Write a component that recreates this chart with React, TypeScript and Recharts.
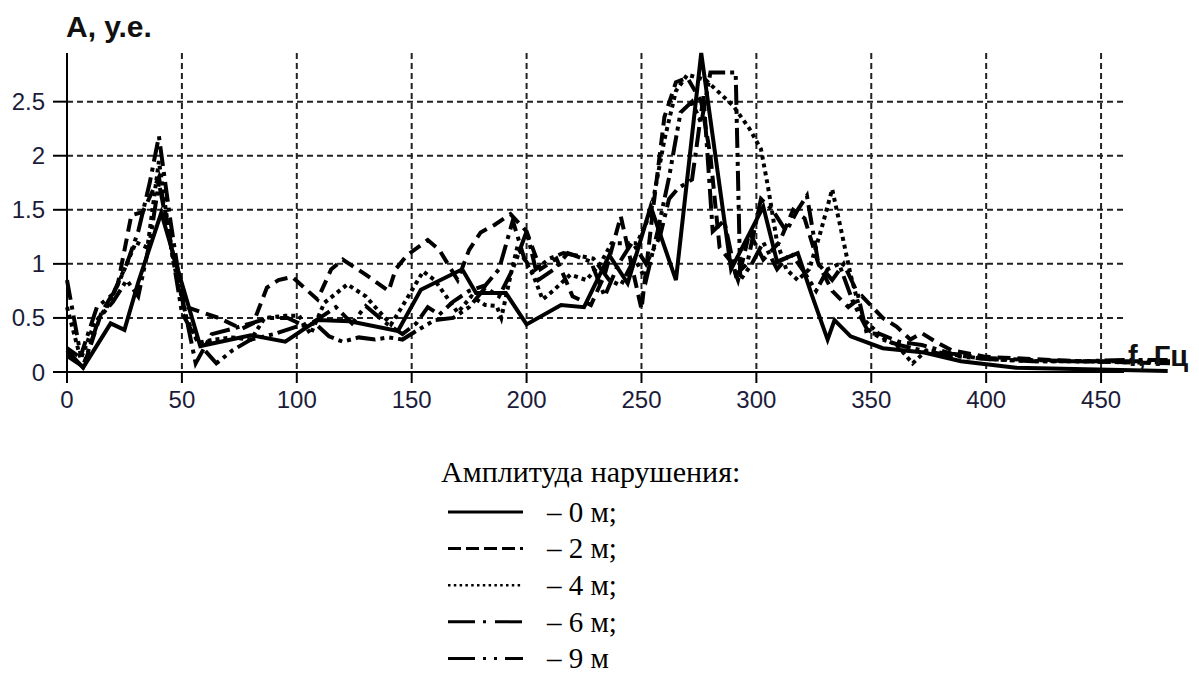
import React from "react";
import {
  LineChart,
  Line,
  XAxis,
  YAxis,
  CartesianGrid,
  ReferenceLine,
  Legend,
} from "recharts";

// frequency axis (Hz) and amplitude axis (conventional units)
const FREQ_TICKS = [0, 50, 100, 150, 200, 250, 300, 350, 400, 450];
const AMP_TICKS = [0, 0.5, 1, 1.5, 2, 2.5];
const GRID_LEVELS = [0.5, 1, 1.5, 2, 2.5];
const AXIS_END = 460;
const FREQ_MAX = 480;
const AMP_MAX = 2.95;

// spectra, [f, A] pairs
const amp0m: [number, number][] = [
  [0, 0.2], [7, 0.04], [19, 0.45], [25, 0.39], [31, 0.83], [41, 1.47], [58, 0.24],
  [80, 0.34], [95, 0.28], [109, 0.48], [123, 0.47], [144, 0.38], [154, 0.76],
  [172, 0.95], [178, 0.73], [191, 0.73], [200, 0.44], [215, 0.62], [225, 0.6],
  [236, 1.08], [244, 0.82], [254, 1.53], [265, 0.85], [276, 2.95], [289, 0.95],
  [303, 1.53], [309, 1.02], [318, 1.1], [324, 0.72], [331, 0.3], [334, 0.48],
  [341, 0.33], [355, 0.22], [373, 0.18], [389, 0.1], [413, 0.04], [479, 0.01],
];

const amp2m: [number, number][] = [
  [0, 0.22], [8, 0.1], [15, 0.55], [22, 0.8], [28, 1.45], [33, 1.48], [40, 1.8],
  [46, 1.1], [52, 0.6], [59, 0.55], [66, 0.5], [76, 0.4], [81, 0.45], [87, 0.78],
  [92, 0.85], [98, 0.88], [109, 0.67], [115, 0.95], [120, 1.04], [130, 0.9],
  [140, 0.75], [143, 0.95], [148, 1.08], [157, 1.22], [162, 1.13], [170, 0.85],
  [175, 1.13], [180, 1.29], [186, 1.36], [193, 1.46], [200, 1.3], [206, 0.95],
  [213, 1.05], [220, 0.7], [228, 0.62], [234, 0.9], [241, 1.44], [250, 0.58],
  [255, 1.5], [260, 2.36], [265, 2.68], [270, 2.72], [276, 2.5], [280, 2.0],
  [284, 1.15], [289, 1.02], [292, 0.85], [297, 1.29], [303, 1.04], [310, 1.2],
  [316, 1.5], [321, 1.42], [327, 1.0], [333, 0.75], [340, 0.6], [346, 0.7],
  [355, 0.5], [361, 0.42], [367, 0.3], [372, 0.36], [378, 0.28], [385, 0.2],
  [400, 0.14], [420, 0.12], [440, 0.1], [460, 0.09], [480, 0.08],
];

const amp4m: [number, number][] = [
  [0, 0.6], [6, 0.12], [12, 0.45], [18, 0.62], [24, 0.9], [30, 1.2], [35, 1.15],
  [40, 1.95], [46, 1.05], [52, 0.5], [57, 0.27], [64, 0.3], [72, 0.32], [80, 0.3],
  [86, 0.5], [95, 0.52], [101, 0.52], [106, 0.35], [112, 0.64], [122, 0.81],
  [130, 0.7], [135, 0.58], [141, 0.44], [146, 0.61], [155, 0.93], [160, 0.85],
  [164, 0.73], [170, 0.55], [176, 0.7], [182, 0.62], [187, 0.61], [189, 0.5],
  [193, 0.89], [196, 1.16], [203, 0.89], [207, 0.67], [212, 0.76], [219, 0.9],
  [226, 0.85], [232, 1.0], [237, 1.19], [248, 1.19], [254, 1.47], [260, 2.15],
  [265, 2.6], [270, 2.75], [278, 2.7], [290, 2.46], [297, 2.25], [302, 2.06],
  [305, 1.72], [309, 1.2], [313, 0.95], [318, 0.85], [323, 0.95], [328, 1.3],
  [333, 1.69], [337, 1.3], [341, 0.9], [346, 0.5], [351, 0.4], [356, 0.3],
  [361, 0.25], [368, 0.08], [374, 0.2], [385, 0.16], [400, 0.12], [420, 0.1],
  [440, 0.1], [460, 0.09], [480, 0.09],
];

const amp6m: [number, number][] = [
  [0, 0.85], [6, 0.15], [13, 0.6], [20, 0.72], [26, 1.0], [31, 1.3], [36, 1.75],
  [40, 2.18], [45, 1.4], [50, 0.7], [56, 0.08], [63, 0.35], [72, 0.4], [80, 0.45],
  [88, 0.5], [96, 0.5], [104, 0.42], [110, 0.5], [117, 0.6], [124, 0.45],
  [130, 0.61], [139, 0.45], [146, 0.35], [152, 0.45], [157, 0.6], [162, 0.53],
  [168, 0.65], [175, 0.75], [182, 0.8], [188, 0.95], [194, 1.4], [199, 1.05],
  [205, 0.85], [212, 0.95], [218, 1.1], [228, 1.02], [234, 0.7], [240, 1.0],
  [246, 1.2], [252, 1.0], [258, 1.25], [262, 1.6], [266, 1.7], [272, 1.78],
  [277, 2.55], [281, 1.3], [286, 1.4], [291, 0.9], [296, 1.0], [302, 1.6],
  [307, 1.5], [313, 1.3], [318, 1.5], [322, 1.63], [327, 1.0], [333, 0.85],
  [338, 1.0], [344, 0.73], [348, 0.36], [354, 0.35], [362, 0.28], [372, 0.25],
  [385, 0.17], [400, 0.13], [420, 0.11], [440, 0.1], [460, 0.1], [480, 0.1],
];

const amp9m: [number, number][] = [
  [0, 0.15], [7, 0.05], [14, 0.5], [20, 0.65], [26, 0.85], [31, 0.7], [36, 1.2],
  [40, 1.75], [45, 1.2], [50, 0.55], [55, 0.35], [60, 0.2], [65, 0.08], [72, 0.2],
  [80, 0.3], [90, 0.35], [100, 0.42], [108, 0.45], [114, 0.33], [120, 0.28],
  [127, 0.32], [134, 0.3], [140, 0.32], [146, 0.3], [152, 0.38], [160, 0.48],
  [168, 0.5], [175, 0.6], [182, 0.78], [188, 0.7], [194, 0.95], [200, 1.3],
  [204, 0.95], [210, 1.05], [216, 1.1], [229, 1.05], [236, 0.85], [241, 0.8],
  [247, 1.05], [252, 0.85], [257, 1.3], [262, 1.8], [267, 2.4], [272, 2.5],
  [276, 2.3], [280, 2.77], [291, 2.77], [293, 0.85], [298, 1.0], [303, 1.2],
  [309, 0.95], [315, 1.1], [320, 0.95], [326, 0.75], [331, 0.95], [336, 1.0],
  [342, 0.65], [348, 0.4], [355, 0.3], [362, 0.25], [372, 0.2], [385, 0.15],
  [400, 0.12], [420, 0.1], [440, 0.1], [460, 0.11], [480, 0.11],
];

const SERIES = [
  { name: "0 м", points: amp0m, dash: undefined, legendDash: undefined, legendWidth: 3 },
  { name: "2 м", points: amp2m, dash: "13 7", legendDash: "13 5", legendWidth: 3 },
  { name: "4 м", points: amp4m, dash: "4 4", legendDash: "2.5 3.3", legendWidth: 2.5 },
  { name: "6 м", points: amp6m, dash: "20 6 4 6", legendDash: "27 8 3 9", legendWidth: 3 },
  { name: "9 м", points: amp9m, dash: "20 5 4 5 4 5", legendDash: "27 8 3 8 3 8", legendWidth: 3 },
];

const toRows = (points: [number, number][]) => points.map(([f, a]) => ({ f, a }));

const SANS = "'Liberation Sans', Arial, sans-serif";
const SERIF = "'Liberation Serif', 'Times New Roman', serif";

function AmpTitle({ viewBox }: any) {
  return (
    <text x={viewBox.x + viewBox.width - 1} y={viewBox.y - 16} fontFamily={SANS}
      fontWeight="bold" fontSize={30} fill="#111">
      A, у.е.
    </text>
  );
}

function FreqTitle({ viewBox }: any) {
  return (
    <text x={viewBox.x + viewBox.width - 42} y={viewBox.y - 6} fontFamily={SANS}
      fontWeight="bold" fontSize={29} fill="#111">
      f, Гц
    </text>
  );
}

function SpectrumLegend({ payload }: any) {
  const items = payload ?? [];
  return (
    <svg width={1199} height={220} style={{ display: "block" }}>
      <text x={441} y={29} fontFamily={SERIF} fontSize={30} fill="#000">
        Амплитуда нарушения:
      </text>
      {items.map((entry: any, i: number) => {
        const s = SERIES.find((d) => d.name === entry.value) ?? SERIES[0];
        const y = 59 + i * 36.6;
        return (
          <g key={entry.value}>
            <line x1={448} x2={523} y1={y} y2={y} stroke="#000"
              strokeWidth={s.legendWidth} strokeDasharray={s.legendDash} />
            <text x={547} y={y} dy="0.34em" fontFamily={SERIF} fontSize={29} fill="#000">
              {`– ${entry.value}${i < items.length - 1 ? ";" : ""}`}
            </text>
          </g>
        );
      })}
    </svg>
  );
}

export default function App() {
  return (
    <div style={{ position: "absolute", left: 0, top: 0, width: 1199, height: 673, background: "#fff" }}>
      <LineChart width={1199} height={673} margin={{ top: 53, right: 29, bottom: 261, left: 0 }}>
        {/* vertical grid only at the labelled frequencies */}
        <CartesianGrid horizontal={false} syncWithTicks
          stroke="#222" strokeWidth={2} strokeDasharray="6 4" />
        {GRID_LEVELS.map((level) => (
          <ReferenceLine key={level} segment={[{ x: 0, y: level }, { x: AXIS_END, y: level }]}
            stroke="#222" strokeWidth={2} strokeDasharray="6 4" />
        ))}
        <ReferenceLine segment={[{ x: 0, y: 0 }, { x: AXIS_END, y: 0 }]} stroke="#000" strokeWidth={2} />
        <XAxis dataKey="f" type="number" domain={[0, FREQ_MAX]} ticks={FREQ_TICKS}
          axisLine={false} tickLine={{ stroke: "#000", strokeWidth: 2 }} tickSize={11} tickMargin={8}
          height={40} tick={{ fontFamily: SANS, fontSize: 24, fill: "#1c1c3a" }}
          label={<FreqTitle />} />
        <YAxis type="number" domain={[0, AMP_MAX]} ticks={AMP_TICKS} width={67}
          axisLine={{ stroke: "#000", strokeWidth: 2 }} tickLine={{ stroke: "#000", strokeWidth: 2 }}
          tickSize={14} tickMargin={8} tick={{ fontFamily: SANS, fontSize: 24, fill: "#1c1c3a" }}
          label={<AmpTitle />} />
        {SERIES.map((s) => (
          <Line key={s.name} name={s.name} data={toRows(s.points)} dataKey="a" type="linear"
            stroke="#000" strokeWidth={4} strokeDasharray={s.dash} dot={false}
            activeDot={false} isAnimationActive={false} />
        ))}
        <Legend layout="vertical" align="center" verticalAlign="middle"
          wrapperStyle={{ left: 0, top: 453, width: 1199, height: 220 }}
          content={<SpectrumLegend />} />
      </LineChart>
    </div>
  );
}
